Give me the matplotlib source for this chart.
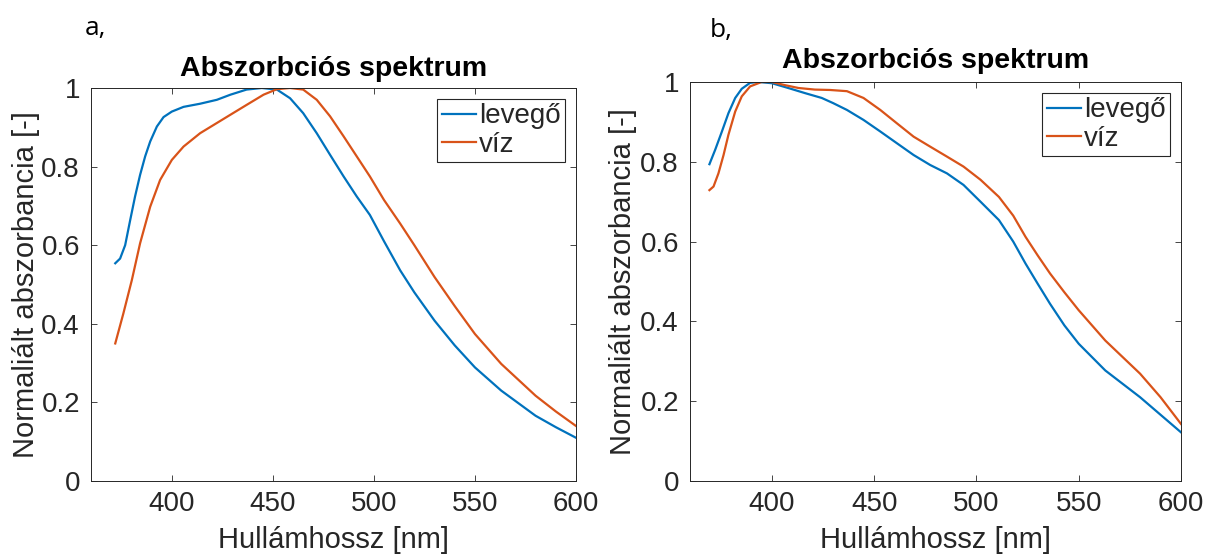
import matplotlib.pyplot as plt

# a, panel
wl_a_air = [372, 374.4, 376.9, 379.4, 381.8, 384.3, 386.8, 389.3, 392.6, 395.9, 400,
            405.8, 414, 422.3, 429, 437, 444.5, 452, 458.5, 465, 471.7, 478.3, 485,
            491.5, 498, 505, 513, 520, 530, 540, 550, 563, 580, 590, 600]
abs_a_air = [0.554, 0.566, 0.60, 0.664, 0.724, 0.779, 0.826, 0.864, 0.902, 0.926, 0.94,
             0.952, 0.96, 0.97, 0.983, 0.996, 1.0, 0.996, 0.974, 0.936, 0.885, 0.83,
             0.775, 0.724, 0.677, 0.61, 0.536, 0.48, 0.408, 0.345, 0.289, 0.23, 0.166,
             0.137, 0.11]
wl_a_water = [372, 376, 380.2, 384.3, 389.3, 394.2, 400, 405.8, 414, 422.3, 429, 437,
              445.4, 452, 458.5, 465, 471.7, 478.3, 485, 491.5, 498, 505, 513, 520, 530,
              540, 550, 563, 580, 590, 600]
abs_a_water = [0.35, 0.426, 0.511, 0.605, 0.698, 0.766, 0.817, 0.851, 0.885, 0.911,
               0.932, 0.957, 0.983, 0.997, 1.0, 0.996, 0.97, 0.928, 0.877, 0.826, 0.775,
               0.715, 0.655, 0.6, 0.519, 0.445, 0.374, 0.298, 0.217, 0.177, 0.14]

# b, panel
wl_b_air = [369.5, 372.3, 375.6, 378.8, 382.1, 385.3, 389.4, 393.5, 400, 408, 416.3,
            424.4, 430, 436.7, 444.8, 453, 461, 469.3, 477.4, 485.6, 493.7, 502, 511,
            518, 524, 530, 536, 543, 550, 563, 580, 590, 600]
abs_b_air = [0.794, 0.83, 0.876, 0.922, 0.96, 0.983, 0.998, 1.0, 0.997, 0.985, 0.972,
             0.96, 0.947, 0.93, 0.905, 0.876, 0.847, 0.817, 0.792, 0.771, 0.742, 0.70,
             0.654, 0.60, 0.545, 0.494, 0.444, 0.39, 0.344, 0.277, 0.21, 0.166, 0.122]
wl_b_water = [369.5, 371.5, 373.9, 376.4, 378.8, 382.1, 385.3, 389.4, 395, 400, 406.5,
              413, 421, 428.5, 436.7, 444.8, 453, 461, 469.3, 477.4, 485.6, 493.7, 502,
              511, 518, 524, 530, 536, 543, 550, 563, 580, 590, 600]
abs_b_water = [0.729, 0.738, 0.771, 0.817, 0.868, 0.926, 0.964, 0.989, 1.0, 1.0, 0.992,
               0.985, 0.981, 0.98, 0.977, 0.96, 0.93, 0.897, 0.863, 0.838, 0.813, 0.788,
               0.755, 0.712, 0.665, 0.612, 0.565, 0.52, 0.473, 0.428, 0.352, 0.269, 0.21,
               0.143]

labels = ['levegő', 'víz']
xticks = [400, 450, 500, 550, 600]
yticks = [0, 0.2, 0.4, 0.6, 0.8, 1]
ytick_labels = ['0', '0.2', '0.4', '0.6', '0.8', '1']

blue = '#0072BD'
orange = '#D95319'
dark = '#262626'

plt.rcParams['font.family'] = ['Liberation Sans', 'DejaVu Sans']

W, H = 1211, 555
fig = plt.figure(figsize=(W / 100, H / 100), dpi=100)
ax1 = fig.add_axes([91 / W, 74 / H, 485 / W, 393 / H])
ax2 = fig.add_axes([690 / W, 74 / H, 491 / W, 399 / H])

panels = [(ax1, wl_a_air, abs_a_air, wl_a_water, abs_a_water, 1, 9),
          (ax2, wl_b_air, abs_b_air, wl_b_water, abs_b_water, 2, 10)]

for ax, x1, y1, x2, y2, ypad, tpad in panels:
    ax.plot(x1, y1, color=blue, lw=1.6, label=labels[0])
    ax.plot(x2, y2, color=orange, lw=1.6, label=labels[1])
    ax.set_xlim(360, 600)
    ax.set_ylim(0, 1)
    ax.set_xticks(xticks)
    ax.set_yticks(yticks)
    ax.set_yticklabels(ytick_labels)
    ax.tick_params(direction='in', top=True, right=True, length=4, width=0.6,
                   colors=dark, labelsize=20)
    ax.tick_params(axis='x', pad=7)
    ax.tick_params(axis='y', pad=8)
    for s in ax.spines.values():
        s.set_color(dark)
        s.set_linewidth(0.7)
    ax.set_xlabel('Hullámhossz [nm]', fontsize=21, color=dark, labelpad=7)
    ax.set_ylabel('Normaliált abszorbancia [-]', fontsize=21, color=dark, labelpad=ypad)
    ax.set_title('Abszorbciós spektrum', fontsize=20.5, fontweight='bold', pad=tpad)
    leg = ax.legend(loc='upper right', fontsize=20, handlelength=1.25,
                    handletextpad=0.1, borderpad=0.15, labelspacing=0.1,
                    fancybox=False, framealpha=1, edgecolor=dark,
                    borderaxespad=0.4)
    leg.get_frame().set_linewidth(0.8)
    for t in leg.get_texts():
        t.set_color(dark)

fig.text(85 / W, 1 - 35 / H, 'a,', fontsize=19, family='Open Sans', va='baseline')
fig.text(710 / W, 1 - 37 / H, 'b,', fontsize=19, family='Open Sans', va='baseline')

fig.savefig('out.png', dpi=100)
